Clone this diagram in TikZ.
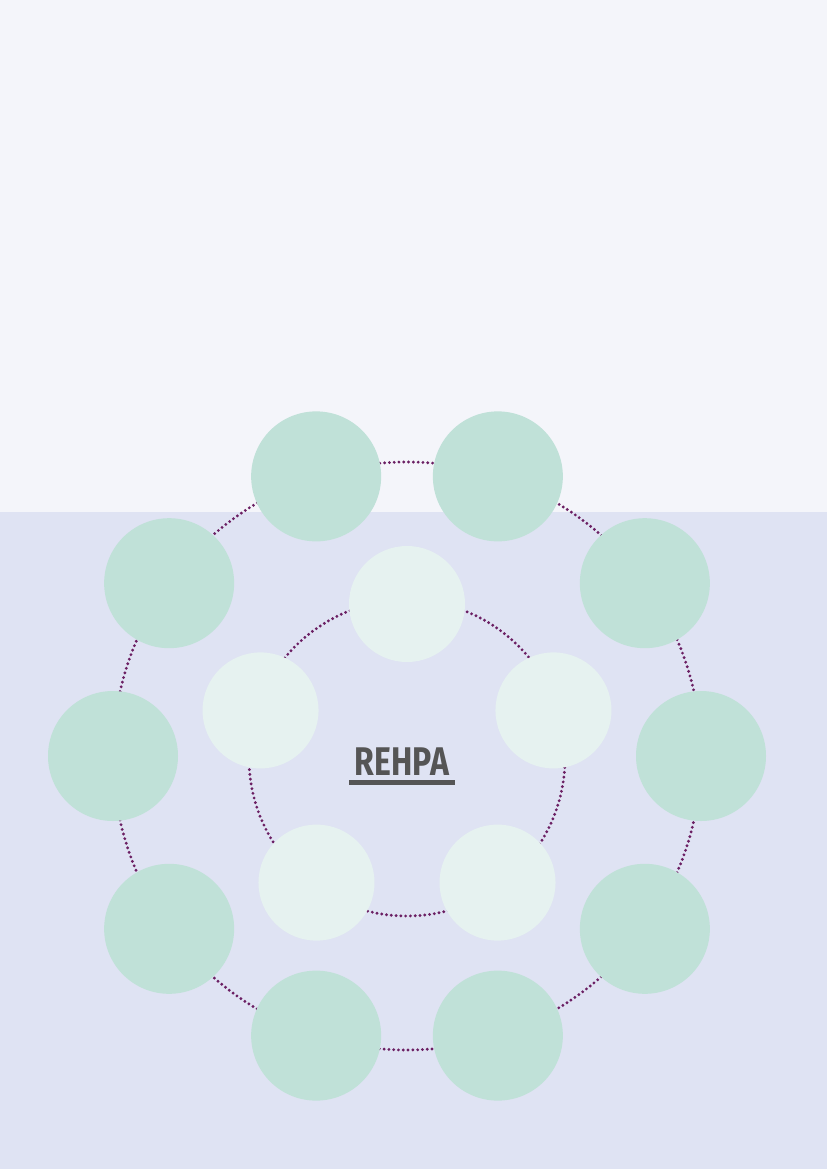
\documentclass[tikz,border=0pt]{standalone}
\usepackage{fontspec}
\setmainfont{Fira Sans}
\usetikzlibrary{calc}
\definecolor{topbg}{HTML}{F4F5FA}
\definecolor{botbg}{HTML}{DFE3F3}
\definecolor{outerc}{HTML}{C0E1D8}
\definecolor{innerc}{HTML}{E6F2F0}
\definecolor{dotc}{HTML}{6B1F63}
\definecolor{txt}{HTML}{555555}
\tikzset{
  ring/.style={draw=dotc, line width=3.2pt, line cap=round, dash pattern=on 0pt off 4.8pt},
  outerdisk/.style={circle, fill=outerc, minimum size=130pt, inner sep=0pt},
  innerdisk/.style={circle, fill=innerc, minimum size=116pt, inner sep=0pt}
}
\begin{document}
\begin{tikzpicture}[x=1pt,y=-1pt]
\fill[topbg] (0,0) rectangle (827,512);
\fill[botbg] (0,512) rectangle (827,1169);
\useasboundingbox (0,0) rectangle (827,1169);
\coordinate (c) at (407,756);
\coordinate (ci) at (407,758);
\draw[ring] (c) circle[radius=294];
\draw[ring] (ci) circle[radius=158];
\foreach \i in {0,...,9}{
  \node[outerdisk] (o\i) at ($(c)+({36*\i}:294)$) {};
}
\foreach \i in {0,...,4}{
  \node[innerdisk] (n\i) at ($(ci)+({270+72*\i}:154)$) {};
}
\node[font=\bfseries\fontsize{40}{40}\selectfont, text=txt, inner sep=0pt, xscale=0.8] (t) at (402,762) {REHPA};
\fill[txt] (349,780) rectangle (455,785);
\end{tikzpicture}
\end{document}
